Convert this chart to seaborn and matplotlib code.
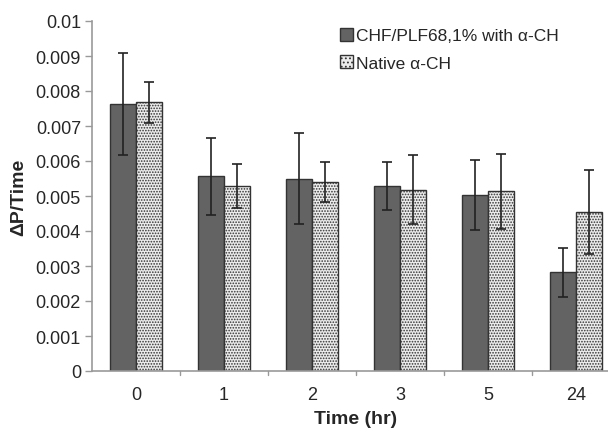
import matplotlib
matplotlib.use("Agg")
import matplotlib.pyplot as plt
import seaborn as sns
import pandas as pd
import numpy as np

times = ["0", "1", "2", "3", "5", "24"]
series_names = ["CHF/PLF68,1% with α-CH", "Native α-CH"]
chf_mean = [0.00762, 0.00557, 0.00550, 0.00529, 0.00503, 0.00282]
chf_err = [0.00146, 0.00110, 0.00130, 0.00068, 0.00100, 0.00070]
nat_mean = [0.00768, 0.00529, 0.00540, 0.00518, 0.00513, 0.00454]
nat_err = [0.00058, 0.00062, 0.00057, 0.00098, 0.00107, 0.00121]
ytick_vals = [0, 0.001, 0.002, 0.003, 0.004, 0.005, 0.006, 0.007, 0.008, 0.009, 0.01]
ytick_labels = ["0", "0.001", "0.002", "0.003", "0.004", "0.005", "0.006", "0.007", "0.008", "0.009", "0.01"]

sns.set_style("white")
plt.rcParams['font.family'] = ['Liberation Sans', 'DejaVu Sans']
plt.rcParams['hatch.color'] = '#666666'
plt.rcParams['hatch.linewidth'] = 0.8

df = pd.DataFrame({
    "Time": times * 2,
    "Series": [series_names[0]] * len(times) + [series_names[1]] * len(times),
    "value": chf_mean + nat_mean,
})
errs = chf_err + nat_err

fig = plt.figure(figsize=(6.08, 4.31), dpi=100)
ax = fig.add_axes([92/608, 1-372/431, (620-92)/608, (372-22)/431])

sns.barplot(data=df, x="Time", y="value", hue="Series", order=times,
            hue_order=series_names, palette=["#636363", "#ececec"],
            width=0.59, errorbar=None, edgecolor="#333333", linewidth=1.0,
            ax=ax, legend=True)

n = len(times)
for i, p in enumerate(ax.patches[:2*n]):
    if i >= n:
        p.set_hatch("......")
    cx = p.get_x() + p.get_width()/2
    ax.errorbar(cx, p.get_height(), yerr=errs[i], color="#222222",
                elinewidth=1.2, capsize=3.5, capthick=1.2, fmt="none", zorder=5)

ax.set_ylim(0, 0.01)
ax.set_xlim(-0.5, n - 0.5)
ax.set_yticks(ytick_vals)
ax.set_yticklabels(ytick_labels, fontsize=13)
ax.tick_params(axis="x", labelsize=13, length=0, pad=11)
ax.tick_params(axis="y", length=5, width=1, color="#999999", direction="out", left=True, pad=3)
for b in np.arange(0.5, n - 0.5, 1.0):
    ax.plot([b, b], [0, -0.00012], color="#999999", lw=1, clip_on=False)

for s in ["top", "right"]:
    ax.spines[s].set_visible(False)
for s in ["left", "bottom"]:
    ax.spines[s].set_color("#999999")
    ax.spines[s].set_linewidth(1.2)

ax.set_xlabel("Time (hr)", fontsize=14, fontweight="bold", labelpad=5)
ax.set_ylabel("ΔP/Time", fontsize=14, fontweight="bold", labelpad=6)

leg = ax.legend(loc="upper left", bbox_to_anchor=(0.44, 1.025), frameon=False,
                fontsize=12.5, handlelength=0.75, handleheight=0.75,
                handletextpad=0.15, labelspacing=0.7)
for h in leg.legend_handles:
    h.set_edgecolor("#333333")
leg.legend_handles[1].set_hatch("....")

fig.savefig("out.png", dpi=100)
